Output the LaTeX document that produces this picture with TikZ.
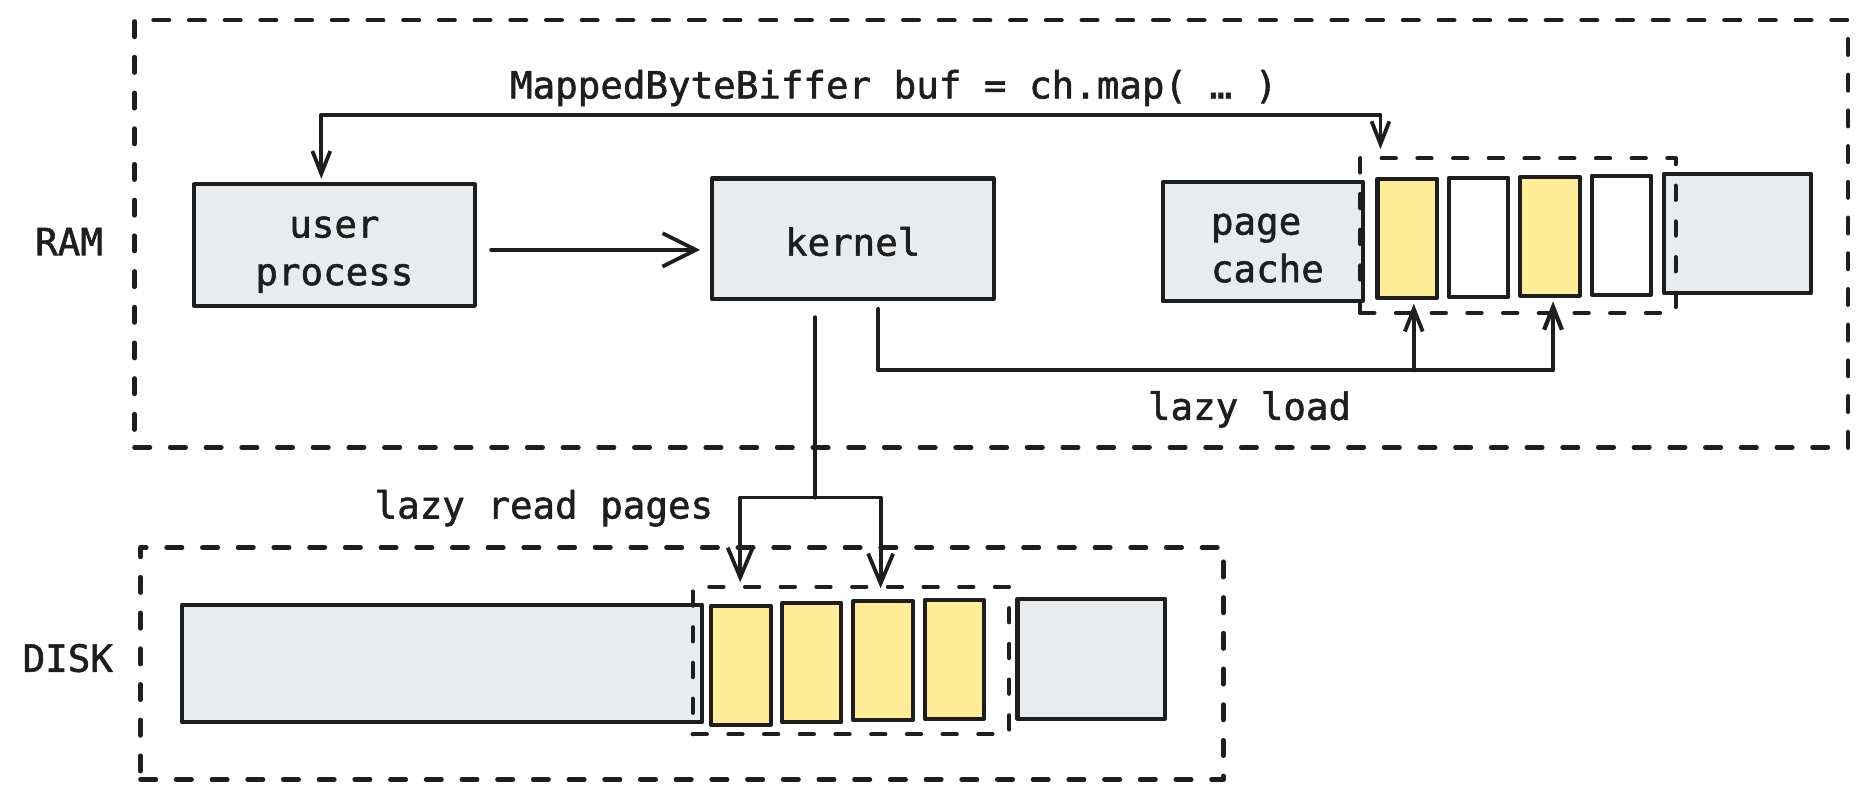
\documentclass[tikz,border=0pt]{standalone}
\usepackage{fontspec}
\newfontfamily\codefont{DejaVu Sans Mono}[FakeBold=1.5]
\usetikzlibrary{arrows.meta}
\definecolor{ink}{HTML}{1E1E1E}
\definecolor{greyfill}{HTML}{E9ECEF}
\definecolor{yellowfill}{HTML}{FFEC99}
\tikzset{
  lbl/.style={font=\fontsize{31.5}{40}\selectfont\codefont, text=ink, inner sep=0pt},
  blk/.style={draw=ink, line width=3.4pt, fill=greyfill, inner sep=0pt, lbl},
  ypage/.style={draw=ink, line width=3.4pt, fill=yellowfill, inner sep=0pt, minimum width=50pt, minimum height=100pt},
  wpage/.style={draw=ink, line width=3.4pt, fill=white, inner sep=0pt, minimum width=50pt, minimum height=100pt},
  selbox/.style={draw=ink, line width=3.4pt, dash pattern=on 12pt off 18pt, inner sep=0pt},
  outerbox/.style={draw=ink, line width=3.8pt, dash pattern=on 13pt off 17pt, inner sep=0pt},
  conn/.style={draw=ink, line width=3.2pt},
  tipS/.tip={Straight Barb[length=19pt,width=15pt]},
  tipM/.tip={Straight Barb[length=25pt,width=21pt]},
  tipL/.tip={Straight Barb[length=28pt,width=28pt]},
}
\begin{document}
\begin{tikzpicture}[x=1pt,y=-1pt, line join=round, line cap=round]
\useasboundingbox (0,0) rectangle (1568,672);

% RAM boxes
\node[blk, minimum width=236pt, minimum height=102pt] (user) at (281,206) {};
\node[lbl, align=center] (usertxt) at (281,214) {user\\process};
\node[blk, minimum width=237pt, minimum height=101pt] (kernel) at (716.5,200.5) {};
\node[lbl] (kerneltxt) at (716.5,203) {kernel};
\node[blk, minimum width=168pt, minimum height=100pt] (pcache) at (1061,203) {};
\node[lbl, align=left] (pcachetxt) at (1065,208.5) {page\\cache};
\node[ypage] (p1) at (1182.5,200.5) {};
\node[wpage] (p2) at (1242.5,199.5) {};
\node[ypage] (p3) at (1302.5,198.5) {};
\node[wpage] (p4) at (1362.5,197.5) {};
\node[blk, minimum width=124pt, minimum height=100pt] (rgrey) at (1460,196) {};
\node[selbox, minimum width=265pt, minimum height=130pt] (sel) at (1275.5,198) {};
\node[outerbox, minimum width=1440pt, minimum height=359pt] (ram) at (833,196.5) {};

% DISK boxes
\node[blk, minimum width=437pt, minimum height=99pt] (dgrey) at (371.5,557.5) {};
\node[ypage] (d1) at (622.5,559) {};
\node[ypage] (d2) at (682,557) {};
\node[ypage] (d3) at (742,555) {};
\node[ypage] (d4) at (802,554) {};
\node[blk, minimum width=124pt, minimum height=101pt] (dright) at (917,553.5) {};
\node[selbox, minimum width=266pt, minimum height=124pt] (dsel) at (715,555) {};
\node[outerbox, minimum width=910pt, minimum height=195pt] (disk) at (573,557.5) {};

% labels
\node[lbl] (ramlbl) at (58,203) {RAM};
\node[lbl] (disklbl) at (57,553) {DISK};
\node[lbl] (maplbl) at (751,74) {MappedByteBiffer buf = ch.map( … )};
\node[lbl] (lzload) at (1050,344) {lazy load};
\node[lbl] (lzread) at (457,427) {lazy read pages};

% connectors
\draw[conn, tipS-tipS] ([shift={(-11,-3)}]user.north) |- ([shift={(-115.5,-35)}]sel.north) -- ([shift={(-115.5,-6)}]sel.north);
\draw[conn, -tipL] ([shift={(12,4)}]user.east) -- ([shift={(-8,9.5)}]kernel.west);

\coordinate (split) at (685,418);
\draw[conn, line width=3.6pt] ([shift={(-31.5,14)}]kernel.south) -- (split);
\draw[conn, -tipM] (split) -| ([shift={(-93,-2)}]dsel.north);
\draw[conn, -tipM] (split) -| ([shift={(25,3)}]dsel.north);

\draw[conn, line width=3.6pt, -tipS] ([shift={(21.5,7)}]kernel.south) |- ([shift={(2.5,61)}]p3.south) -- ([shift={(2.5,3)}]p3.south);
\draw[conn, -tipS] ([shift={(5.5,59)}]p1.south) -- ([shift={(5.5,3)}]p1.south);
\end{tikzpicture}
\end{document}
